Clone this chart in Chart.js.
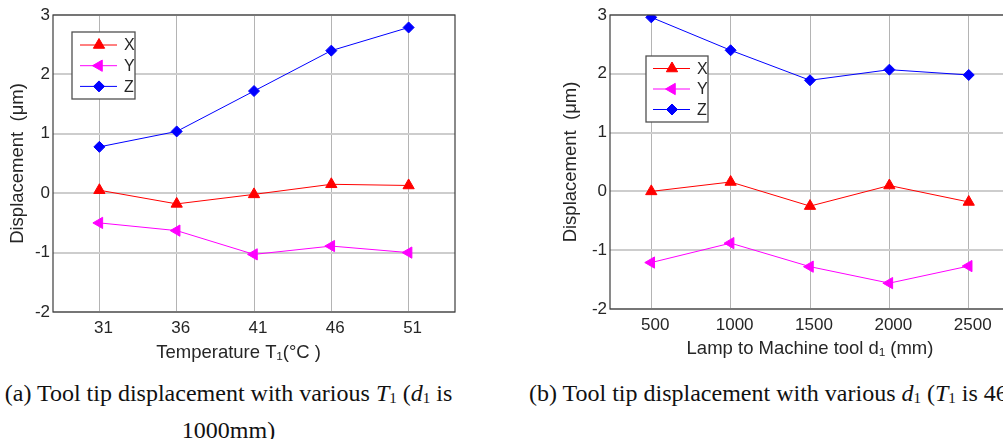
<!DOCTYPE html>
<html>
<head>
<meta charset="utf-8">
<script src="https://cdn.jsdelivr.net/npm/chart.js@4.4.1/dist/chart.umd.min.js"></script>
<style>
  html, body { margin: 0; padding: 0; background: #fff; }
  #wrap { position: relative; width: 1003px; height: 439px; overflow: hidden; background: #fff; }
  canvas { position: absolute; top: 0; }
  #chartT { left: 0; }
  #chartD { left: 540px; }
  .cap {
    position: absolute;
    font-family: "Liberation Serif", "Times New Roman", serif;
    font-size: 24px;
    line-height: 34px;
    color: #111;
    white-space: nowrap;
  }
  .cap i { font-style: italic; }
  .cap .s { font-size: 15px; position: relative; top: 2px; }
  #capA { left: 0; top: 376px; width: 457px; text-align: center; }
  #capB { left: 529px; top: 376px; }
</style>
</head>
<body>
<div id="wrap">
  <canvas id="chartT" width="470" height="370"></canvas>
  <canvas id="chartD" width="480" height="370"></canvas>
  <div class="cap" id="capA">(a) Tool tip displacement with various <i>T</i><span class="s">1</span> (<i>d</i><span class="s">1</span> is<br>1000mm)</div>
  <div class="cap" id="capB">(b) Tool tip displacement with various <i>d</i><span class="s">1</span> (<i>T</i><span class="s">1</span> is 46℃)</div>
</div>
<script>
// Temperature sweep (d1 = 1000 mm)
const temperatures = [31, 36, 41, 46, 51];
const tempX = [0.05, -0.18, -0.02, 0.15, 0.13];
const tempY = [-0.50, -0.63, -1.03, -0.89, -1.00];
const tempZ = [0.78, 1.04, 1.72, 2.40, 2.79];

// Lamp distance sweep (T1 = 46 °C)
const distances = [500, 1000, 1500, 2000, 2500];
const distX = [0.00, 0.16, -0.25, 0.10, -0.18];
const distY = [-1.21, -0.88, -1.28, -1.56, -1.27];
const distZ = [2.96, 2.40, 1.89, 2.07, 1.98];

const dispTicks = [-2, -1, 0, 1, 2, 3];
const seriesNames = ['X', 'Y', 'Z'];

const TEXT = '#262626';
const SANS = '"Liberation Sans", Arial, Helvetica, sans-serif';

function pts(xs, ys) { return xs.map((x, i) => ({ x: x, y: ys[i] })); }

function datasets(xs, sx, sy, sz) {
  return [
    { label: seriesNames[0], data: pts(xs, sx), borderColor: '#ff0000', backgroundColor: '#ff0000',
      pointStyle: 'triangle', pointRadius: 6.5, pointRotation: 0 },
    { label: seriesNames[1], data: pts(xs, sy), borderColor: '#ff00ff', backgroundColor: '#ff00ff',
      pointStyle: 'triangle', pointRadius: 6.5, pointRotation: -90 },
    { label: seriesNames[2], data: pts(xs, sz), borderColor: '#0000ff', backgroundColor: '#0000ff',
      pointStyle: 'rectRot', pointRadius: 5.5, pointRotation: 0 }
  ].map(d => Object.assign(d, { borderWidth: 1, pointBorderWidth: 1, tension: 0, fill: false }));
}

// Full box around the plotting area
const frame = {
  id: 'frame',
  afterDatasetsDraw(chart) {
    const { ctx, chartArea: a } = chart;
    ctx.save();
    ctx.strokeStyle = '#3c3c3c';
    ctx.lineWidth = 1.2;
    ctx.strokeRect(a.left, a.top, a.right - a.left, a.bottom - a.top);
    ctx.restore();
  }
};

function marker(ctx, style, r, rot, x, y) {
  ctx.beginPath();
  if (style === 'rectRot') {
    ctx.moveTo(x, y - r); ctx.lineTo(x + r, y); ctx.lineTo(x, y + r); ctx.lineTo(x - r, y);
  } else {
    let a = rot * Math.PI / 180;
    for (let k = 0; k < 3; k++) {
      const px = x + Math.sin(a) * r, py = y - Math.cos(a) * r;
      if (k === 0) ctx.moveTo(px, py); else ctx.lineTo(px, py);
      a += 2 * Math.PI / 3;
    }
  }
  ctx.closePath();
  ctx.fill();
  ctx.stroke();
}

// Boxed legend placed inside the plotting area
const boxLegend = {
  id: 'boxLegend',
  afterDraw(chart, args, o) {
    const { ctx, chartArea: a } = chart;
    const x0 = a.left + o.x, y0 = a.top + o.y;
    ctx.save();
    ctx.fillStyle = '#fff';
    ctx.fillRect(x0, y0, o.w, o.h);
    ctx.strokeStyle = '#505050';
    ctx.lineWidth = 1.3;
    ctx.strokeRect(x0, y0, o.w, o.h);
    chart.data.datasets.forEach((ds, i) => {
      const yy = y0 + o.rowTop + i * o.rowGap;
      ctx.strokeStyle = ds.borderColor;
      ctx.lineWidth = 1;
      ctx.beginPath();
      ctx.moveTo(x0 + o.lineFrom, yy);
      ctx.lineTo(x0 + o.lineTo, yy);
      ctx.stroke();
      ctx.fillStyle = ds.backgroundColor;
      marker(ctx, ds.pointStyle, ds.pointRadius, ds.pointRotation, x0 + o.mark, yy);
      ctx.fillStyle = TEXT;
      ctx.font = '16px ' + SANS;
      ctx.textBaseline = 'middle';
      ctx.textAlign = 'left';
      ctx.fillText(ds.label, x0 + o.text, yy + 1);
    });
    ctx.restore();
  }
};

function buildChart(id, p) {
  return new Chart(document.getElementById(id), {
    type: 'line',
    data: { datasets: datasets(p.xs, p.sx, p.sy, p.sz) },
    plugins: [frame, boxLegend],
    options: {
      responsive: false,
      animation: false,
      events: [],
      layout: { padding: { top: 15, right: p.padRight, left: 0, bottom: 0 } },
      plugins: {
        legend: { display: false },
        tooltip: { enabled: false },
        boxLegend: p.legend
      },
      scales: {
        x: {
          type: 'linear',
          min: p.xMin, max: p.xMax,
          afterBuildTicks: s => { s.ticks = p.xs.map(v => ({ value: v })); },
          afterFit: s => { s.height = p.xAxisH; },
          border: { display: false },
          grid: { color: '#b4b4b4', lineWidth: 1, drawTicks: false },
          ticks: { color: TEXT, font: { family: SANS, size: 17 }, padding: 6, labelOffset: 4,
                   maxRotation: 0, autoSkip: false, callback: v => String(v) },
          title: { display: true, text: p.xTitle, color: TEXT, font: { family: SANS, size: 18.5 },
                   padding: { top: 0, bottom: p.xTitlePad } }
        },
        y: {
          min: -2, max: 3,
          afterBuildTicks: s => { s.ticks = dispTicks.map(v => ({ value: v })); },
          afterFit: s => { s.width = p.yAxisW; },
          border: { display: false },
          grid: { color: '#cdcdcd', lineWidth: 2, drawTicks: false },
          ticks: { color: TEXT, font: { family: SANS, size: 17 }, padding: 3, callback: v => String(v) },
          title: { display: true, text: 'Displacement  (μm)', color: TEXT, font: { family: SANS, size: 18.5 },
                   padding: { top: p.yTitlePad, bottom: 0 } }
        }
      }
    }
  });
}

buildChart('chartT', {
  xs: temperatures, sx: tempX, sy: tempY, sz: tempZ,
  xMin: 28, xMax: 54, padRight: 15, xAxisH: 58, yAxisW: 53,
  xTitle: 'Temperature T₁(°C )      ', xTitlePad: 6, yTitlePad: 7,
  legend: { x: 19, y: 17, w: 63, h: 67, rowTop: 13, rowGap: 20.7, lineFrom: 8, lineTo: 45, mark: 27, text: 52 }
});

buildChart('chartD', {
  xs: distances, sx: distX, sy: distY, sz: distZ,
  xMin: 240, xMax: 2760, padRight: 10, xAxisH: 61, yAxisW: 70,
  xTitle: 'Lamp to Machine tool d₁ (mm)', xTitlePad: 10, yTitlePad: 20,
  legend: { x: 36, y: 41, w: 62, h: 66, rowTop: 12.5, rowGap: 20.5, lineFrom: 7, lineTo: 44, mark: 26, text: 51 }
});
</script>
</body>
</html>
